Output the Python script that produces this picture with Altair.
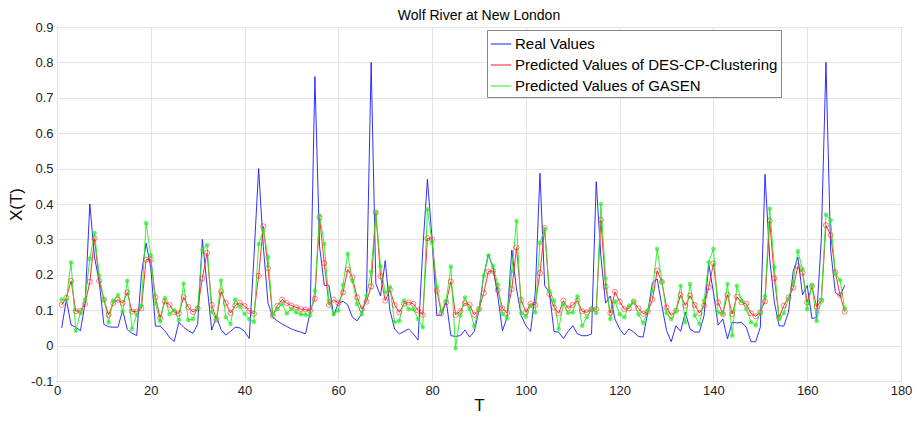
import altair as alt
import pandas as pd

# ---- data ----
series_names = ["Real Values",
                "Predicted Values of DES-CP-Clustering",
                "Predicted Values of GASEN"]
series_colors = ["#1a1aff", "#ff1a1a", "#22ee22"]

real_values = [
    0.05, 0.13, 0.058, 0.052, 0.042, 0.12, 0.40, 0.25, 0.18, 0.06,
    0.053, 0.052, 0.052, 0.10, 0.045, 0.035, 0.028, 0.20, 0.29, 0.22,
    0.055, 0.055, 0.042, 0.023, 0.012, 0.066, 0.052, 0.042, 0.035, 0.06,
    0.30, 0.17, 0.044, 0.082, 0.045, 0.03, 0.04, 0.052, 0.05, 0.04,
    0.02, 0.25, 0.50, 0.28, 0.12, 0.08, 0.07, 0.061, 0.054, 0.047,
    0.042, 0.038, 0.033, 0.094, 0.76, 0.28, 0.17, 0.17, 0.085, 0.12,
    0.125, 0.115, 0.08, 0.07, 0.09, 0.14, 0.80, 0.175, 0.14, 0.24,
    0.10, 0.047, 0.033, 0.04, 0.047, 0.033, 0.016, 0.27, 0.47, 0.30,
    0.085, 0.087, 0.127, 0.028, 0.026, 0.028, 0.044, 0.024, 0.04, 0.10,
    0.197, 0.258, 0.22, 0.14, 0.042, 0.08, 0.27, 0.16, 0.085, 0.056,
    0.04, 0.15, 0.487, 0.17, 0.15, 0.04, 0.038, 0.02, 0.04, 0.056,
    0.033, 0.028, 0.028, 0.033, 0.463, 0.25, 0.12, 0.14, 0.075, 0.047,
    0.03, 0.047, 0.038, 0.026, 0.024, 0.094, 0.178, 0.188, 0.113, 0.042,
    0.011, 0.056, 0.04, 0.094, 0.047, 0.038, 0.038, 0.085, 0.23, 0.15,
    0.058, 0.075, 0.019, 0.066, 0.064, 0.066, 0.052, 0.011, 0.011, 0.052,
    0.484, 0.245, 0.122, 0.056, 0.055, 0.094, 0.209, 0.25, 0.143, 0.17,
    0.077, 0.079, 0.30, 0.80, 0.27, 0.15, 0.14, 0.17,
]

des_values = [
    0.115, 0.135, 0.183, 0.097, 0.098, 0.118, 0.18, 0.303, 0.183, 0.13,
    0.087, 0.12, 0.13, 0.12, 0.15, 0.096, 0.096, 0.105, 0.243, 0.243,
    0.137, 0.078, 0.125, 0.115, 0.094, 0.091, 0.137, 0.109, 0.095, 0.105,
    0.19, 0.262, 0.115, 0.074, 0.153, 0.12, 0.092, 0.113, 0.121, 0.112,
    0.098, 0.09, 0.197, 0.337, 0.218, 0.085, 0.113, 0.13, 0.12, 0.113,
    0.108, 0.103, 0.102, 0.099, 0.132, 0.362, 0.233, 0.115, 0.13, 0.12,
    0.15, 0.215, 0.193, 0.136, 0.103, 0.124, 0.167, 0.376, 0.196, 0.127,
    0.158, 0.115, 0.094, 0.118, 0.122, 0.118, 0.099, 0.087, 0.303, 0.30,
    0.155, 0.091, 0.122, 0.181, 0.087, 0.097, 0.12, 0.115, 0.087, 0.103,
    0.148, 0.209, 0.211, 0.157, 0.105, 0.092, 0.16, 0.277, 0.129, 0.094,
    0.118, 0.115, 0.205, 0.332, 0.146, 0.108, 0.091, 0.127, 0.105, 0.115,
    0.127, 0.097, 0.094, 0.103, 0.103, 0.355, 0.167, 0.092, 0.152, 0.124,
    0.103, 0.105, 0.124, 0.105, 0.09, 0.096, 0.13, 0.212, 0.18, 0.108,
    0.085, 0.099, 0.143, 0.113, 0.141, 0.115, 0.092, 0.113, 0.165, 0.232,
    0.122, 0.089, 0.144, 0.089, 0.138, 0.122, 0.118, 0.091, 0.083, 0.094,
    0.125, 0.353, 0.19, 0.08, 0.113, 0.136, 0.163, 0.224, 0.206, 0.122,
    0.168, 0.11, 0.127, 0.34, 0.312, 0.207, 0.143, 0.096,
]

gasen_values = [
    0.13, 0.13, 0.235, 0.042, 0.092, 0.13, 0.245, 0.318, 0.198, 0.13,
    0.066, 0.127, 0.143, 0.097, 0.183, 0.047, 0.087, 0.113, 0.346, 0.255,
    0.12, 0.068, 0.134, 0.089, 0.1, 0.072, 0.175, 0.072, 0.075, 0.107,
    0.27, 0.284, 0.095, 0.073, 0.184, 0.08, 0.061, 0.13, 0.11, 0.09,
    0.075, 0.067, 0.287, 0.326, 0.25, 0.087, 0.103, 0.118, 0.091, 0.103,
    0.094, 0.089, 0.087, 0.085, 0.155, 0.367, 0.287, 0.127, 0.089, 0.099,
    0.171, 0.259, 0.183, 0.118, 0.089, 0.141, 0.209, 0.376, 0.224, 0.15,
    0.165, 0.066, 0.07, 0.127, 0.103, 0.103, 0.075, 0.052, 0.385, 0.29,
    0.166, 0.097, 0.127, 0.223, -0.007, 0.085, 0.136, 0.103, 0.055, 0.103,
    0.197, 0.254, 0.225, 0.172, 0.089, 0.077, 0.211, 0.352, 0.092, 0.082,
    0.113, 0.094, 0.29, 0.329, 0.155, 0.127, 0.047, 0.118, 0.092, 0.094,
    0.139, 0.056, 0.08, 0.103, 0.092, 0.40, 0.19, 0.075, 0.125, 0.089,
    0.08, 0.113, 0.124, 0.089, 0.064, 0.099, 0.155, 0.273, 0.181, 0.092,
    0.075, 0.097, 0.169, 0.066, 0.174, 0.085, 0.061, 0.127, 0.235, 0.273,
    0.094, 0.09, 0.174, 0.028, 0.169, 0.127, 0.103, 0.066, 0.058, 0.094,
    0.139, 0.387, 0.221, 0.075, 0.092, 0.132, 0.18, 0.267, 0.216, 0.103,
    0.171, 0.07, 0.129, 0.37, 0.354, 0.204, 0.185, 0.105,
]

x_ticks = [0, 20, 40, 60, 80, 100, 120, 140, 160, 180]
y_ticks = [-0.1, 0.0, 0.1, 0.2, 0.3, 0.4, 0.5, 0.6, 0.7, 0.8, 0.9]

# ---- long table ----
rows = []
for name, vals in zip(series_names, [real_values, des_values, gasen_values]):
    for i, v in enumerate(vals):
        rows.append({"T": i + 1, "value": v, "series": name, "order": i})
df = pd.DataFrame(rows)

FONT = "Liberation Sans"

x_enc = alt.X("T:Q",
              scale=alt.Scale(domain=[0, 180], nice=False, zero=False),
              axis=alt.Axis(values=x_ticks, tickCount=len(x_ticks),
                            title="T", format="d",
                            labelFontSize=13, titleFontSize=17,
                            titleFontWeight="normal", labelPadding=3,
                            titlePadding=0, tickSize=0, grid=True,
                            labelFlush=False, labelOverlap=False))
y_enc = alt.Y("value:Q",
              scale=alt.Scale(domain=[-0.1, 0.9], nice=False, zero=False),
              axis=alt.Axis(values=y_ticks, tickCount=len(y_ticks),
                            title="X(T)",
                            labelExpr="datum.value < -0.05 ? '-0.1' : format(datum.value, '.1~f')",
                            labelFontSize=13, titleFontSize=17,
                            titleFontWeight="normal", labelPadding=4,
                            titlePadding=5, tickSize=0, grid=True,
                            labelFlush=False, labelOverlap=False,
                            labelBound=False))

lines = alt.Chart(df).mark_line(strokeWidth=0.9).encode(
    x=x_enc, y=y_enc,
    color=alt.Color("series:N",
                    scale=alt.Scale(domain=series_names, range=series_colors),
                    sort=series_names,
                    legend=alt.Legend(title=None, orient="none",
                                      legendX=430, legendY=3,
                                      symbolType="stroke", symbolSize=420,
                                      symbolStrokeWidth=1, labelFontSize=15,
                                      labelFont=FONT, rowPadding=2,
                                      labelLimit=500,
                                      fillColor="white", strokeColor="#888888",
                                      padding=3, labelOffset=3)),
    detail="series:N",
    order="order:Q",
)

des_pts = alt.Chart(df[df["series"] == series_names[1]]).mark_point(
    shape="circle", filled=False, size=26, strokeWidth=0.8,
    color=series_colors[1]
).encode(x="T:Q", y="value:Q")

asterisk = "M-1,0L1,0M0,-1L0,1M-0.7,-0.7L0.7,0.7M-0.7,0.7L0.7,-0.7"
gasen_pts = alt.Chart(df[df["series"] == series_names[2]]).mark_point(
    shape=asterisk, filled=False, size=22, strokeWidth=1.2,
    color=series_colors[2]
).encode(x="T:Q", y="value:Q")

chart = alt.layer(lines, des_pts, gasen_pts).properties(
    width=844, height=354,
    title=alt.TitleParams("Wolf River at New London", fontSize=14,
                          fontWeight="normal", font=FONT, offset=-2),
    autosize=alt.AutoSizeParams(type="none"),
    padding={"left": 49, "top": 19, "right": 13, "bottom": 32},
).configure_view(
    stroke="#888888", strokeWidth=1
).configure_axis(
    labelFont=FONT, titleFont=FONT, gridColor="#e4e4e4", gridWidth=1,
    domain=False, labelColor="#222222", titleColor="#111111",
)

chart.save("out.html", embed_options={"renderer": "svg", "actions": False})
